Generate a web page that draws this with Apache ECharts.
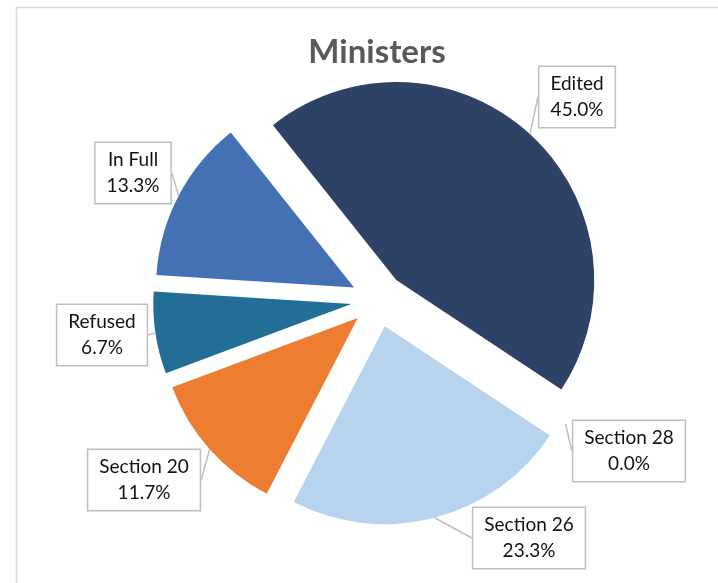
<!DOCTYPE html>
<html>
<head>
<meta charset="utf-8">
<script src="https://cdn.jsdelivr.net/npm/echarts@6/dist/echarts.min.js"></script>
<style>
  html, body { margin: 0; padding: 0; background: #ffffff; }
  #chart { width: 718px; height: 583px; }
</style>
</head>
<body>
<div id="chart"></div>
<script>
// Outcome categories, in drawing order (clockwise)
const categories = ['Edited', 'Section 28', 'Section 26', 'Section 20', 'Refused', 'In Full'];
// Share of requests, percent
const shares = [45.0, 0.0, 23.3, 11.7, 6.7, 13.3];
// Slice fills
const sliceColors = ['#2E4265', '#5B9BD5', '#B8D3EE', '#ED7D31', '#236E96', '#4471B3'];
// Where each callout box sits (box centre, px)
const calloutCenters = [[577, 97], [629, 451], [529, 538], [144, 480], [102, 335], [133, 173]];

const PIE_CENTER = [378, 300];
const PIE_RADIUS = 198;
const EXPLODE = 27;
const START_ANGLE = 128.5;

const chart = echarts.init(document.getElementById('chart'), null, { renderer: 'canvas' });

// Exploded slices: every slice is selected so it is pushed out along its bisector
const sliceData = categories.map((name, i) => ({
  name: name,
  value: shares[i],
  selected: true,
  itemStyle: { color: sliceColors[i] }
}));

// Same shares on an invisible ring whose rim meets the exploded slices' rims;
// it carries the callouts so their pointers land on each slice's arc midpoint
const calloutData = categories.map((name, i) => ({ name: name, value: shares[i] }));

chart.setOption({
  animation: false,
  backgroundColor: '#ffffff',
  title: {
    text: 'Ministers',
    left: 372,
    top: 31,
    textAlign: 'center',
    textStyle: { fontFamily: 'Lato, sans-serif', fontSize: 33, fontWeight: 'bold', color: '#595959' }
  },
  graphic: [{
    type: 'rect',
    silent: true,
    shape: { x: 16.5, y: 7.5, width: 720, height: 600 },
    style: { fill: 'none', stroke: '#D9D9D9', lineWidth: 1.5 }
  }],
  series: [{
    type: 'pie',
    center: PIE_CENTER,
    radius: [0, PIE_RADIUS],
    startAngle: START_ANGLE,
    clockwise: true,
    selectedMode: 'multiple',
    selectedOffset: EXPLODE,
    emphasis: { scale: false },
    itemStyle: { borderWidth: 0 },
    label: { show: false },
    labelLine: { show: false },
    silent: true,
    data: sliceData
  }, {
    type: 'pie',
    center: PIE_CENTER,
    radius: [0, PIE_RADIUS + EXPLODE],
    startAngle: START_ANGLE,
    clockwise: true,
    silent: true,
    z: 3,
    avoidLabelOverlap: false,
    emphasis: { scale: false },
    itemStyle: { color: 'rgba(0,0,0,0)', borderWidth: 0 },
    label: {
      show: true,
      position: 'outside',
      formatter: p => p.name + '\n' + p.value.toFixed(1) + '%',
      fontFamily: 'Lato, sans-serif',
      fontSize: 19,
      lineHeight: 26,
      color: '#111111',
      backgroundColor: '#ffffff',
      borderColor: '#BFBFBF',
      borderWidth: 1.5,
      padding: [4, 11, 4, 11]
    },
    labelLine: {
      show: true,
      length: 0,
      length2: 0,
      smooth: false,
      lineStyle: { color: '#BFBFBF', width: 1.5 }
    },
    labelLayout: p => {
      const c = calloutCenters[p.dataIndex];
      return { x: c[0], y: c[1], align: 'center', verticalAlign: 'middle' };
    },
    data: calloutData
  }]
});
</script>
</body>
</html>
